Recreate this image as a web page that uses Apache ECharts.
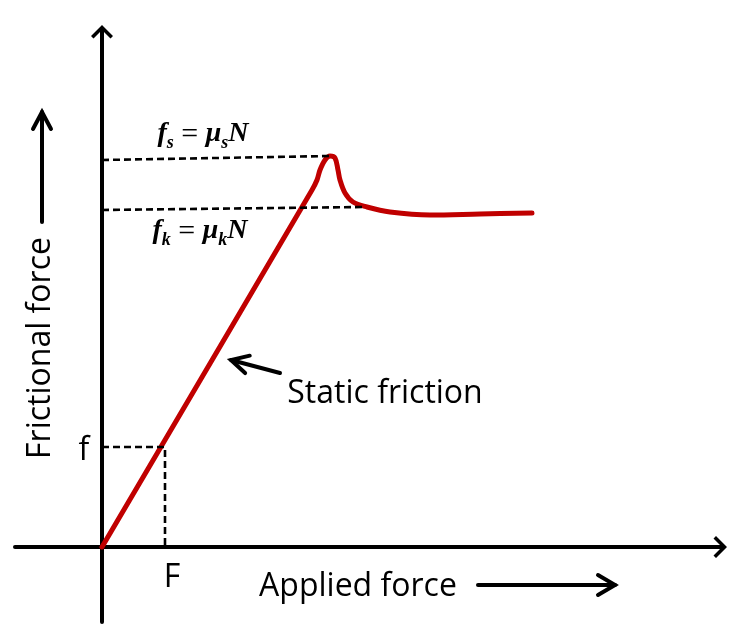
<!DOCTYPE html>
<html><head><meta charset="utf-8">
<script src="https://cdn.jsdelivr.net/npm/echarts@6/dist/echarts.min.js"></script>
<style>html,body{margin:0;padding:0;background:#fff}#c{width:751px;height:625px}</style>
</head><body><div id="c"></div>
<script>
// Red friction curve (applied force vs frictional force, arbitrary units)
const appliedForce    = [0, 210, 215, 218, 223, 228, 233, 236, 238, 243, 251, 265, 288, 328, 378, 430];
const frictionalForce = [0, 357, 367, 377, 387, 391, 389, 377, 367, 354, 345, 340, 335, 332, 333, 334];
// Dashed guide lines
const staticMaxLine = [[0, 387], [228, 391]];
const kineticLine   = [[0, 337], [263, 340]];
const fGuide        = [[0, 100], [63, 100], [63, 0]];
// Axis extents
const xRange = [-87, 615];
const yRange = [-75, 512];

const curve = appliedForce.map((x, i) => [x, frictionalForce[i]]);
const arrowPath = 'path://M11,0 L22,11 L19.5,13.5 L13,7 L13,20 L9,20 L9,7 L2.5,13.5 L0,11 Z';

const chart = echarts.init(document.getElementById('c'), null, {renderer: 'canvas'});
const axisCommon = {
  type: 'value',
  axisLine: {show: true, onZero: true, lineStyle: {color: '#000', width: 4},
             symbol: ['none', arrowPath], symbolSize: [22, 20]},
  axisTick: {show: false}, axisLabel: {show: false}, splitLine: {show: false}
};
const dashStyle = {color: '#000', width: 2.6, type: [7, 4]};
const font = '"Open Sans"';
const fs = '32px ';
const mainRich = {
  m: {fontFamily: 'Liberation Serif', fontStyle: 'italic', fontWeight: 'bold', fontSize: 28, lineHeight: 32, verticalAlign: 'top', fill: '#000', color: '#000'},
  e: {fontFamily: 'Liberation Serif', fontSize: 30, lineHeight: 32, verticalAlign: 'top', fill: '#000', color: '#000'},
  s: {fontFamily: 'Liberation Serif', fontStyle: 'italic', fontWeight: 'bold', fontSize: 18, lineHeight: 19, verticalAlign: 'bottom', fill: '#000', color: '#000'}
};
function arrow(x1, y1, x2, y2, back, half) {
  const dx = x2 - x1, dy = y2 - y1, L = Math.hypot(dx, dy);
  const ux = dx / L, uy = dy / L, px = -uy, py = ux;
  return [
    {type: 'line', shape: {x1, y1, x2, y2}, style: {stroke: '#000', lineWidth: 4, lineCap: 'round'}},
    {type: 'polyline', shape: {points: [
      [x2 - ux * back + px * half, y2 - uy * back + py * half], [x2, y2],
      [x2 - ux * back - px * half, y2 - uy * back - py * half]]},
     style: {stroke: '#000', lineWidth: 4, lineCap: 'round', lineJoin: 'miter', fill: null}}
  ];
}
chart.setOption({
  animation: false,
  backgroundColor: '#fff',
  grid: {left: 15, right: 34, top: 35, bottom: 3},
  xAxis: Object.assign({min: xRange[0], max: xRange[1]}, axisCommon),
  yAxis: Object.assign({min: yRange[0], max: yRange[1]}, axisCommon),
  series: [
    {type: 'line', data: curve, symbol: 'none', smooth: 0.35, z: 3,
     lineStyle: {color: '#C00000', width: 5, cap: 'round', join: 'round'}},
    {type: 'line', data: staticMaxLine, symbol: 'none', z: 4, lineStyle: dashStyle},
    {type: 'line', data: kineticLine, symbol: 'none', z: 4, lineStyle: dashStyle},
    {type: 'line', data: fGuide, symbol: 'none', z: 4, lineStyle: dashStyle}
  ],
  graphic: [
    {type: 'text', x: 203, y: 136, style: {text: '{m|f}{s|s}{e| = }{m|μ}{s|s}{m|N}', rich: mainRich, align: 'center', verticalAlign: 'middle'}},
    {type: 'text', x: 200, y: 233, style: {text: '{m|f}{s|k}{e| = }{m|μ}{s|k}{m|N}', rich: mainRich, align: 'center', verticalAlign: 'middle'}},
    {type: 'text', x: 84, y: 451, style: {text: 'f', font: fs + font, fill: '#000', align: 'center', verticalAlign: 'middle'}},
    {type: 'text', x: 172, y: 578, style: {text: 'F', font: fs + font, fill: '#000', align: 'center', verticalAlign: 'middle'}},
    {type: 'text', x: 385, y: 394, style: {text: 'Static friction', font: fs + font, fill: '#000', align: 'center', verticalAlign: 'middle'}},
    {type: 'text', x: 358, y: 587, style: {text: 'Applied force', font: fs + font, fill: '#000', align: 'center', verticalAlign: 'middle'}},
    {type: 'text', x: 41, y: 348, rotation: Math.PI / 2, style: {text: 'Frictional force', font: fs + font, fill: '#000', align: 'center', verticalAlign: 'middle'}},
    ...arrow(42, 222, 42, 112, 17, 9),
    ...arrow(478, 585, 615, 585, 17, 10),
    ...arrow(280, 373, 231, 360, 17, 9)
  ]
});
</script></body></html>
